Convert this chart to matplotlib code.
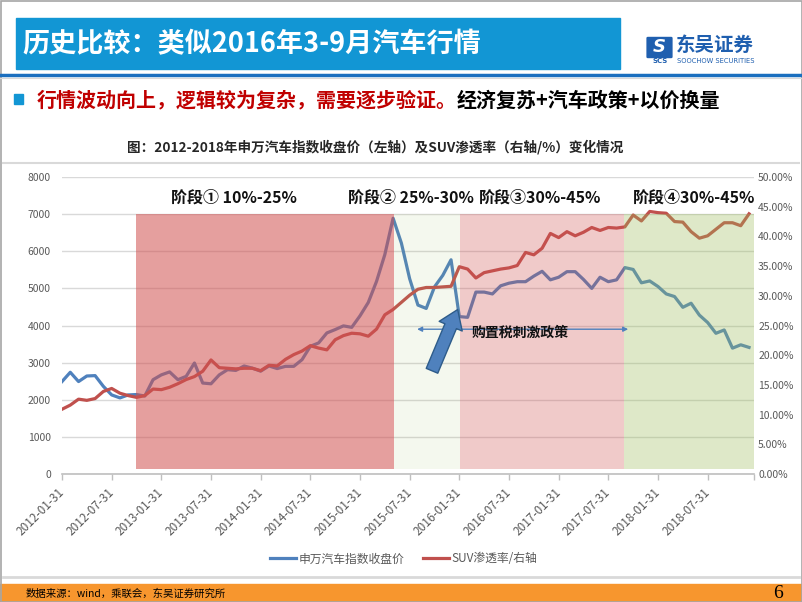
import matplotlib
matplotlib.use("Agg")
import matplotlib.pyplot as plt
from matplotlib.patches import Rectangle, FancyArrowPatch, FancyBboxPatch
from matplotlib.lines import Line2D

plt.rcParams['font.family'] = ['Noto Sans CJK SC', 'DejaVu Sans']

# --- data (monthly, 2012-01 .. 2018-12) ---
sw_auto_index = [
    2490, 2740, 2490, 2640, 2650, 2360, 2130, 2050, 2130, 2140, 2100, 2540,
    2670, 2750, 2540, 2630, 2990, 2450, 2430, 2670, 2810, 2790, 2910, 2850,
    2770, 2910, 2840, 2900, 2900, 3080, 3440, 3530, 3800, 3890, 3990, 3950,
    4260, 4620, 5190, 5910, 6890, 6220, 5260, 4550, 4460, 5040, 5350, 5770,
    4240, 4220, 4900, 4900, 4850, 5070, 5140, 5180, 5180, 5330, 5460, 5230,
    5300, 5450, 5450, 5240, 5000, 5300, 5180, 5230, 5560, 5510, 5150, 5200,
    5050, 4850, 4780, 4490, 4600, 4280, 4080, 3790, 3880, 3390, 3480, 3410,
]
suv_share = [
    10.9, 11.6, 12.6, 12.4, 12.7, 13.9, 14.4, 13.6, 13.2, 12.9, 13.2, 14.3,
    14.2, 14.6, 15.2, 15.9, 16.4, 17.3, 19.2, 17.9, 17.8, 17.7, 17.8, 17.8,
    17.4, 18.3, 18.2, 19.3, 20.1, 20.7, 21.6, 21.2, 20.9, 22.6, 23.3, 23.7,
    23.6, 23.2, 24.4, 26.8, 27.7, 28.9, 30.1, 31.1, 31.4, 31.4, 31.5, 31.6,
    34.9, 34.5, 33.0, 33.9, 34.2, 34.5, 34.7, 35.1, 37.3, 36.9, 38.0, 40.5,
    39.8, 40.8, 40.1, 40.7, 41.5, 41.0, 41.5, 41.4, 41.6, 43.6, 42.6, 44.2,
    44.0, 43.9, 42.5, 42.4, 40.8, 39.7, 40.1, 41.2, 42.3, 42.3, 41.8, 43.8,
]
xtick_labels = [
    '2012-01-31', '2012-07-31', '2013-01-31', '2013-07-31', '2014-01-31',
    '2014-07-31', '2015-01-31', '2015-07-31', '2016-01-31', '2016-07-31',
    '2017-01-31', '2017-07-31', '2018-01-31', '2018-07-31',
]
stage_edges = [8.9, 40.1, 48.1, 67.9, 83.6]
stage_labels = ['阶段① 10%-25%', '阶段② 25%-30%', '阶段③30%-45%', '阶段④30%-45%']
stage_colors = [('#D0504F', 0.55), ('#9BBB59', 0.10), ('#D0504F', 0.30), ('#9BBB59', 0.33)]

W, H = 802, 602
fx = lambda x: x / W
fy = lambda y: 1 - y / H

fig = plt.figure(figsize=(8.02, 6.02), dpi=100, facecolor='white')

# --- header ---
fig.patches.append(Rectangle((fx(16), fy(69)), fx(604), 51 / H, transform=fig.transFigure,
                             color='#1296D4', zorder=0))
fig.text(fx(22), fy(44), '历史比较：类似2016年3-9月汽车行情', color='white',
         fontsize=19.5, fontweight='bold', va='center', ha='left')

# logo
fig.patches.append(FancyBboxPatch((fx(648), fy(57)), fx(23), 19 / H, transform=fig.transFigure,
                                  boxstyle='round,pad=0.002', fc='#1F5FAF', ec='none'))
fig.text(fx(659.5), fy(47.5), 'S', color='white', fontsize=13, fontweight='bold',
         fontstyle='italic', ha='center', va='center', family='DejaVu Sans')
fig.text(fx(660), fy(61), 'SCS', color='#1F5FAF', fontsize=5, fontweight='bold',
         ha='center', va='center', family='DejaVu Sans')
fig.text(fx(676), fy(45), '东吴证券', color='#1F5FAF', fontsize=14, fontweight='bold',
         ha='left', va='center')
fig.text(fx(677), fy(61), 'SOOCHOW SECURITIES', color='#1F5FAF', fontsize=4.9,
         ha='left', va='center', family='DejaVu Sans')

fig.add_artist(Line2D([0, 1], [fy(75), fy(75)], color='#1A6FBF', lw=2.5))
fig.add_artist(Line2D([0, 1], [fy(78), fy(78)], color='#D9D9D9', lw=0.8))

# subtitle
fig.patches.append(Rectangle((fx(14), fy(104)), fx(9), 10 / H, transform=fig.transFigure,
                             color='#1296D4'))
t_red = fig.text(fx(37), fy(100), '行情波动向上，逻辑较为复杂，需要逐步验证。', color='#C00000',
                 fontsize=14.4, fontweight='bold', ha='left', va='center')
renderer = fig.canvas.get_renderer()
bb = t_red.get_window_extent(renderer=renderer)
fig.text(bb.x1 / W, fy(100), '经济复苏+汽车政策+以价换量', color='black',
         fontsize=14.4, fontweight='bold', ha='left', va='center')

# chart title
fig.text(fx(375), fy(147), '图：2012-2018年申万汽车指数收盘价（左轴）及SUV渗透率（右轴/%）变化情况',
         fontsize=9.8, fontweight='bold', ha='center', va='center', color='#262626')
fig.add_artist(Line2D([fx(3), fx(799)], [fy(163), fy(163)], color='#D9D9D9', lw=1.5))
fig.add_artist(Line2D([fx(3), fx(799)], [fy(577), fy(577)], color='#D9D9D9', lw=2))

# --- chart ---
ax = fig.add_axes([fx(62), fy(474), (754 - 62) / W, (474 - 177) / H])
ax2 = ax.twinx()
x = list(range(len(sw_auto_index)))

l1, = ax.plot(x, sw_auto_index, color='#4F81BD', lw=2.3, zorder=2)
l2, = ax2.plot(x, suv_share, color='#C0504D', lw=2.3, zorder=2)

for i, (c, a) in enumerate(stage_colors):
    ax2.axvspan(stage_edges[i], stage_edges[i + 1], ymin=135 / 8000, ymax=7000 / 8000,
                color=c, alpha=a, lw=0, zorder=3)

ax.set_xlim(0, 83.6)
ax.set_ylim(0, 8000)
ax2.set_ylim(0, 50)
ax.set_yticks(range(0, 8001, 1000))
ax2.set_yticks(range(0, 51, 5))
ax2.set_yticklabels([f'{v:.2f}%' for v in range(0, 51, 5)])
ax.yaxis.grid(True, color='#D9D9D9', lw=1)
ax.set_axisbelow(True)

for s in ['top', 'left', 'right']:
    ax.spines[s].set_visible(False)
for s in ax2.spines.values():
    s.set_visible(False)
ax.spines['bottom'].set_color('#BFBFBF')
ax.spines['bottom'].set_linewidth(1.2)

ax.tick_params(axis='y', length=0, labelsize=7.5, labelcolor='#595959', pad=8)
ax2.tick_params(axis='y', length=0, labelsize=7.5, labelcolor='#595959', pad=3)

ax.set_xticks(list(range(0, 84, 6)) + [83.6])
ax.set_xticklabels(xtick_labels + [''])
ax.tick_params(axis='x', length=4, color='#BFBFBF', width=1, labelsize=8.5,
               labelcolor='#595959', pad=8)
plt.setp(ax.get_xticklabels(), rotation=45, ha='right', va='center', rotation_mode='anchor')

# stage labels
stage_label_x = [20.8, 42.1, 57.8, 76.4]
for sx, lab in zip(stage_label_x, stage_labels):
    ax2.text(sx, 7440, lab, transform=ax.transData, fontsize=11.5, fontweight='bold',
             ha='center', va='center', color='#111111', zorder=10)

# purchase-tax policy span arrow
ax2.add_patch(FancyArrowPatch((42.9, 3900), (68.4, 3900), transform=ax.transData,
                              arrowstyle='<|-|>', mutation_scale=7, color='#4F81BD',
                              lw=1, shrinkA=0, shrinkB=0, zorder=9))
ax2.text(55.3, 3800, '购置税刺激政策', transform=ax.transData, fontsize=10, fontweight='bold',
         ha='center', va='center', color='#111111', zorder=10)

# big block arrow
ax2.add_patch(FancyArrowPatch((44.7, 2780), (47.8, 4430), transform=ax.transData,
                              arrowstyle='simple,tail_width=9,head_width=18,head_length=13',
                              mutation_scale=1, fc='#4F81BD', ec='#2E5C8A', lw=1,
                              shrinkA=0, shrinkB=0, zorder=11))

ax2.legend([l1, l2], ['申万汽车指数收盘价', 'SUV渗透率/右轴'], loc='center',
           bbox_to_anchor=(fx(404), fy(559)), bbox_transform=fig.transFigure, ncol=2,
           frameon=False, fontsize=8.5, handlelength=2.2, columnspacing=1.6,
           handletextpad=0.2, labelcolor='#595959')

# --- footer ---
fig.patches.append(Rectangle((0, 0), 1, 18 / H, transform=fig.transFigure, color='#F7962E'))
fig.text(fx(26), fy(594), '数据来源：wind，乘联会，东吴证券研究所', fontsize=7.5,
         ha='left', va='center', color='black')
fig.text(fx(778), fy(593), '6', fontsize=14, ha='center', va='center',
         family='Liberation Serif', color='black')

fig.patches.append(Rectangle((0.5 / W, 0.5 / H), 1 - 1 / W, 1 - 1 / H, transform=fig.transFigure,
                             fill=False, ec='#A6A6A6', lw=1.2))

fig.savefig('out.png', dpi=100)
